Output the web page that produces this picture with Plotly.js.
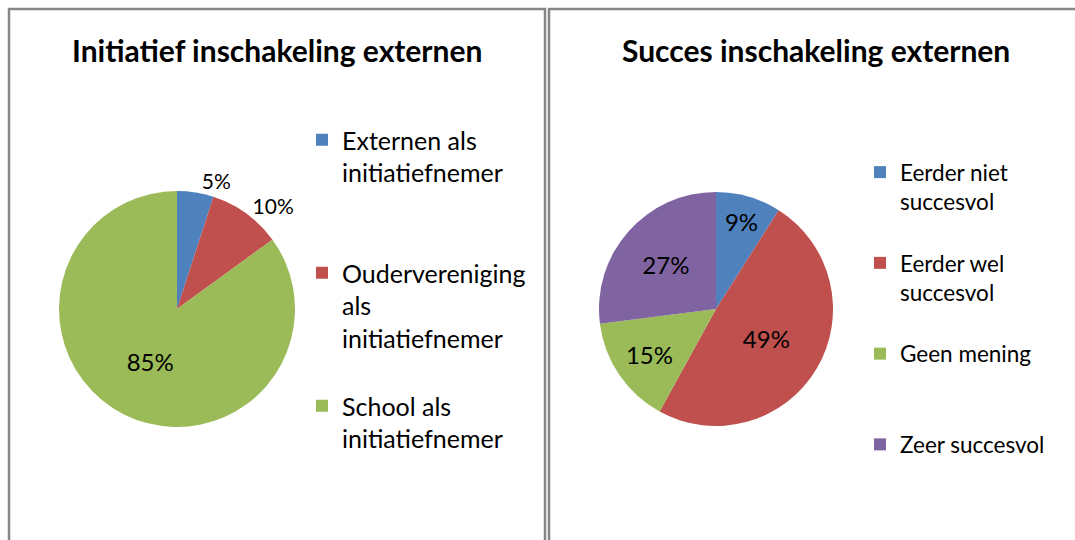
<!DOCTYPE html>
<html>
<head>
<meta charset="utf-8">
<script src="https://cdn.plot.ly/plotly-3.0.1.min.js"></script>
<style>html,body{margin:0;padding:0;background:#fff;}#chart{width:1075px;height:540px;}</style>
</head>
<body>
<div id="chart"></div>
<script>
// Chart 1: Initiatief inschakeling externen
const initiatiefLabels = ["Externen als<br>initiatiefnemer", "Oudervereniging<br>als<br>initiatiefnemer", "School als<br>initiatiefnemer"];
const initiatiefValues = [5, 10, 85];
// Chart 2: Succes inschakeling externen
const succesLabels = ["Eerder niet<br>succesvol", "Eerder wel<br>succesvol", "Geen mening", "Zeer succesvol"];
const succesValues = [9, 49, 15, 27];

const titles = ["Initiatief inschakeling externen", "Succes inschakeling externen"];
const colors = ["#4F81BD", "#C0504D", "#9BBB59", "#8064A2"];

const W = 1075, H = 540;
const px = x => x / W;
const py = y => 1 - y / H;
const FONT = "Lato, 'Open Sans', sans-serif";

// pad legend entries to a fixed number of lines so slots are evenly spaced
function pad(label, n) {
  const lines = label.split("<br>").length;
  let s = label;
  for (let i = lines; i < n; i++) s += "<br>\u00a0";
  return s;
}

const trace1 = {
  type: "pie",
  labels: initiatiefLabels.map(l => pad(l, 4)),
  values: initiatiefValues,
  sort: false,
  direction: "clockwise",
  rotation: 0,
  marker: {colors: colors.slice(0, 3), line: {width: 0}},
  textinfo: "percent",
  texttemplate: "%{percent:.0%}",
  textposition: ["outside", "outside", "inside"],
  insidetextorientation: "horizontal",
  textfont: {family: FONT, size: 21, color: "#000"},
  outsidetextfont: {family: FONT, size: 21, color: "#000"},
  insidetextfont: {family: FONT, size: 24, color: "#000"},
  domain: {x: [px(59), px(295)], y: [py(427), py(191)]},
  legend: "legend",
  hoverinfo: "label+percent"
};

const trace2 = {
  type: "pie",
  labels: succesLabels.map(l => pad(l, 3)),
  values: succesValues,
  sort: false,
  direction: "clockwise",
  rotation: 0,
  marker: {colors: colors, line: {width: 0}},
  textinfo: "percent",
  texttemplate: "%{percent:.0%}",
  textposition: "inside",
  insidetextorientation: "horizontal",
  textfont: {family: FONT, size: 24, color: "#000"},
  insidetextfont: {family: FONT, size: 24, color: "#000"},
  domain: {x: [px(599), px(833)], y: [py(426), py(192)]},
  legend: "legend2",
  hoverinfo: "label+percent"
};

const layout = {
  width: W, height: H,
  margin: {l: 0, r: 0, t: 0, b: 0},
  paper_bgcolor: "#ffffff",
  font: {family: FONT, color: "#000"},
  showlegend: true,
  legend: {
    x: px(302), y: py(117), xanchor: "left", yanchor: "top",
    font: {family: FONT, size: 25, color: "#000"},
    valign: "top", bgcolor: "rgba(0,0,0,0)", traceorder: "normal"
  },
  legend2: {
    x: px(860), y: py(151), xanchor: "left", yanchor: "top",
    font: {family: FONT, size: 22.5, color: "#000"},
    valign: "top", bgcolor: "rgba(0,0,0,0)", traceorder: "normal"
  },
  annotations: [
    {text: "<b>" + titles[0] + "</b>", x: px(277), y: py(50), xref: "paper", yref: "paper",
     xanchor: "center", yanchor: "middle", showarrow: false, font: {family: FONT, size: 30, color: "#000"}},
    {text: "<b>" + titles[1] + "</b>", x: px(816), y: py(50), xref: "paper", yref: "paper",
     xanchor: "center", yanchor: "middle", showarrow: false, font: {family: FONT, size: 30, color: "#000"}}
  ],
  shapes: [
    {type: "rect", xref: "paper", yref: "paper", x0: px(9), x1: px(545), y0: py(580), y1: py(9),
     line: {color: "#868686", width: 2.5}, fillcolor: "rgba(0,0,0,0)", layer: "below"},
    {type: "rect", xref: "paper", yref: "paper", x0: px(549), x1: px(1100), y0: py(580), y1: py(9),
     line: {color: "#868686", width: 2.5}, fillcolor: "rgba(0,0,0,0)", layer: "below"}
  ]
};

Plotly.newPlot("chart", [trace1, trace2], layout, {displayModeBar: false, responsive: false});
</script>
</body>
</html>
